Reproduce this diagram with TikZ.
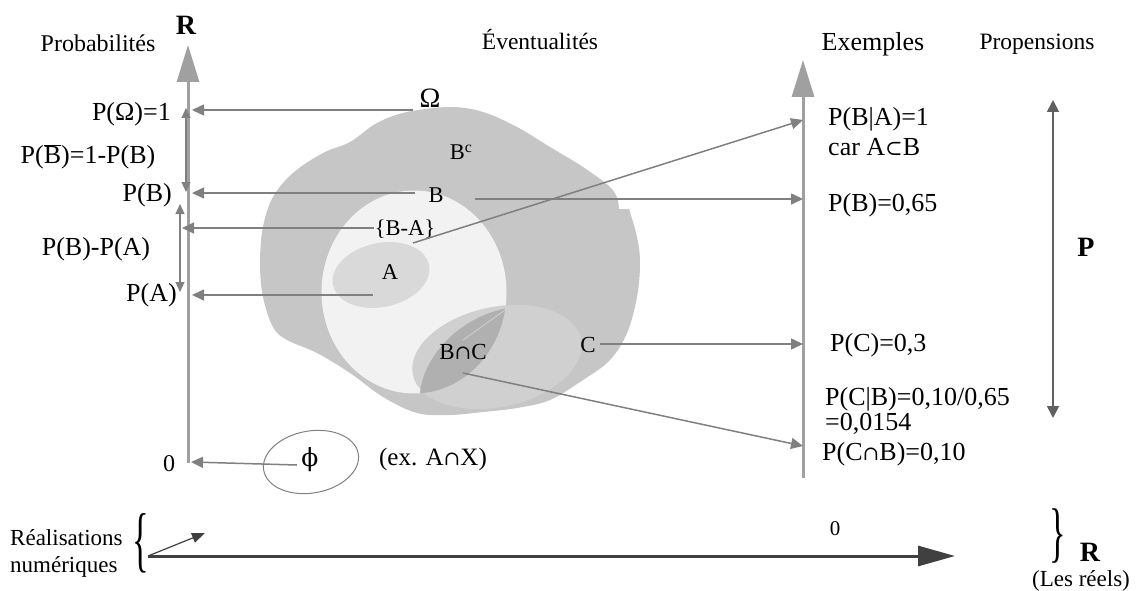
\documentclass[tikz,border=0pt]{standalone}
\usepackage{fontspec}
\setmainfont{Liberation Serif}
\newfontfamily\dvs{DejaVu Serif}
\usepackage{graphicx}
\usetikzlibrary{arrows.meta}
\newcommand{\fsz}[1]{\fontsize{#1}{#1}\selectfont}
\newcommand{\capsym}{{\dvs\fontsize{20}{20}\selectfont ∩}}
\newcommand{\subsym}{{\dvs\fontsize{21}{21}\selectfont ⊂}}
\definecolor{cBlob}{HTML}{C6C6C6}
\definecolor{cCirc}{HTML}{F2F2F2}
\definecolor{cA}{HTML}{D9D9D9}
\definecolor{cC}{HTML}{D0D0D0}
\definecolor{cBC}{HTML}{B0B0B0}
\definecolor{cLine}{HTML}{808080}
\definecolor{cAxis}{HTML}{A0A0A0}
\definecolor{cDark}{HTML}{404040}
\definecolor{cProp}{HTML}{606060}
\begin{document}
\begin{tikzpicture}[x=1pt,y=-1pt,
  every node/.style={inner sep=0pt,text depth=0pt},
  f21/.style={font=\fsz{21},text height=14.3pt},
  f22/.style={font=\fsz{22.5},text height=15.3pt},
  f23/.style={font=\fsz{23},text height=15.6pt},
  f235/.style={font=\fsz{23.5},text height=16pt},
  f24/.style={font=\fsz{24},text height=16.3pt},
  f25/.style={font=\fsz{25},text height=17pt},
  lbl/.style={font=\fsz{26},text height=17.7pt},
  bf28/.style={font=\bfseries\fsz{28},text height=19pt},
  conn/.style={draw=cLine,line width=1.5pt,-{Triangle[length=12pt,width=11pt]},color=cLine},
  dbl/.style={draw=cLine,line width=1.2pt,{Triangle[length=10pt,width=9pt]}-{Triangle[length=10pt,width=9pt]}},
  axisarrow/.style={draw=cAxis,line width=3pt,-{Triangle[length=37pt,width=22pt]}},
  bracenode/.style={font=\fsz{30},text height=20pt}]
\useasboundingbox (0,0) rectangle (1138,591);

% ---------- the blob (Omega) ----------
\fill[cBlob] plot[smooth,tension=0.6] coordinates {
 (629,209) (637,237) (640,263) (637,297) (627,333) (610,360) (583,380)
 (550,400) (517,408) (483,412) (450,415) (417,413) (383,397) (350,373)
 (317,353) (287,340) (273,327) (263,297) (260,263) (263,227) (273,197)
 (293,173) (323,153) (350,142) (377,123) (407,112) (450,107) (483,112)
 (517,127) (550,147) (583,167) (610,187) (618,200)} -- (619,209) -- cycle;
% circle B
\fill[cCirc] (414,292) ellipse [x radius=92.5pt, y radius=101.5pt];
% A
\fill[cA, shift={(381,275)}, rotate=12] (0,0) ellipse [x radius=49pt, y radius=32pt];
% C
\fill[cC, shift={(497,357)}, rotate=12] (0,0) ellipse [x radius=86pt, y radius=50pt];
% B cap C
\begin{scope}
  \clip (414,292) ellipse [x radius=92.5pt, y radius=101.5pt];
  \fill[cBC] (508,308) .. controls (455,318) and (423,360) .. (420,393) -- (520,430) -- (545,300) -- cycle;
\end{scope}
\draw[cC,line width=0.8pt] (508,308) -- (463,340);

% ---------- axes ----------
\coordinate (Lbot) at (188,463);
\coordinate (Ltop) at (188,45);
\coordinate (Rbot) at (803,478);
\coordinate (Rtop) at (803,60);
\draw[axisarrow] (Lbot) -- (Ltop);
\draw[axisarrow] (Rbot) -- (Rtop);

% ---------- headers ----------
\node[f24] (prob) at (98,43) {Probabilités};
\node[bf28] (Rl) at (186,25) {R};
\node[f235] (even) at (540,42) {Éventualités};
\node[lbl] (ex) at (873,42) {Exemples};
\node[f235] (prop) at (1037,42) {Propensions};

% ---------- left labels ----------
\node[lbl,anchor=east] (pO) at (171,112) {P(Ω)=1};
\node[lbl] (pBb) at (88,155) {P($\overline{\hbox{B}}$)=1-P(B)};
\node[lbl,anchor=east] (pB) at (172,193) {P(B)};
\node[lbl] (pBA) at (96,247) {P(B)-P(A)};
\node[lbl,anchor=east] (pA) at (177,293) {P(A)};
\node[f24] (zero) at (169,463) {0};

\draw[dbl] (186,108) -- (186,192);
\draw[dbl] (180,204) -- (180,292);

% ---------- labels in the blob ----------
\node[font=\fsz{28},text height=19pt] (Om) at (430,98) {Ω};
\node[f22] (Bc) at (461,152) {B\textsuperscript{c}};
\node[f22] (Bn) at (436,195) {B};
\node[f22] (BA) at (405,228) {\{B-A\}};
\node[f22] (An) at (390,272) {A};
\node[f23] (BC) at (463,352) {B\capsym C};
\node[f23] (Cn) at (588,345) {C};

% phi
\draw[cLine,line width=1pt, shift={(311,462)}, rotate=10] (0,0) ellipse [x radius=48pt, y radius=31pt];
\node[font=\dvs\fsz{25},text height=17pt] (phi) at (310,458) {ϕ};
\node[f25] (exAX) at (433,457) {(ex. A\capsym X)};

% ---------- connectors to left axis ----------
\coordinate (sO) at (413,110);  \coordinate (eO) at (192,110);
\coordinate (sB) at (415,193);  \coordinate (eB) at (192,193);
\coordinate (sBA) at (374,228); \coordinate (eBA) at (182,228);
\coordinate (sA) at (373,295);  \coordinate (eA) at (192,295);
\coordinate (sphi) at (297,465); \coordinate (ephi) at (191,462);
\draw[conn] (sO) -- (eO);
\draw[conn] (sB) -- (eB);
\draw[conn] (sBA) -- (eBA);
\draw[conn] (sA) -- (eA);
\draw[conn] (sphi) -- (ephi);

% ---------- connectors to right axis ----------
\coordinate (rB1) at (475,199);  \coordinate (rB2) at (803,199);
\coordinate (rA1) at (413,243);  \coordinate (rA2) at (803,120);
\coordinate (rC1) at (600,344);  \coordinate (rC2) at (803,344);
\coordinate (rBC1) at (463,373); \coordinate (rBC2) at (803,446);
\draw[conn] (rB1) -- (rB2);
\draw[conn] (rA1) -- (rA2);
\draw[conn] (rC1) -- (rC2);
\draw[conn] (rBC1) -- (rBC2);

% ---------- right labels ----------
\node[lbl,anchor=west] (pBgA) at (828,117) {P(B|A)=1};
\node[lbl,anchor=west] (car) at (828,147) {car A\subsym B};
\node[lbl,anchor=west] (pB2) at (828,203) {P(B)=0,65};
\node[lbl,anchor=west] (pC) at (830,343) {P(C)=0,3};
\node[lbl,anchor=west] (pCgB) at (825,397) {P(C|B)=0,10/0,65};
\node[lbl,anchor=west] (pCgB2) at (825,422) {=0,0154};
\node[lbl,anchor=west] (pCB) at (822,452) {P(C\capsym B)=0,10};

% propensions arrow
\coordinate (pr1) at (1053,418);
\coordinate (pr2) at (1053,100);
\draw[draw=cProp,line width=1.8pt,{Triangle[length=12pt,width=12pt]}-{Triangle[length=12pt,width=12pt]}] (pr1) -- (pr2);
\node[bf28] (Pb) at (1086,247) {P};

% ---------- bottom ----------
\node[f23,anchor=west] (real) at (10,538) {Réalisations};
\node[f23,anchor=west] (num) at (10,565) {numériques};
\node[bracenode] (lbr) at (141,553) {\scalebox{1.15}[2.4]{\{}};
\coordinate (h1) at (148,556);
\coordinate (h2) at (955,556);
\coordinate (h3) at (205,533);
\draw[draw=cDark,line width=3pt,-{Triangle[length=37pt,width=20pt]}] (h1) -- (h2);
\draw[draw=cDark,line width=1.2pt,-{Triangle[length=13pt,width=10pt]}] (h1) -- (h3);
\node[f21] (zb) at (835,528) {0};
\node[bracenode] (rbr) at (1058,544) {\scalebox{1.15}[2.2]{\}}};
\node[bf28] (Rr) at (1090,552) {R};
\node[f23] (reels) at (1081,579) {(Les réels)};
\end{tikzpicture}
\end{document}
